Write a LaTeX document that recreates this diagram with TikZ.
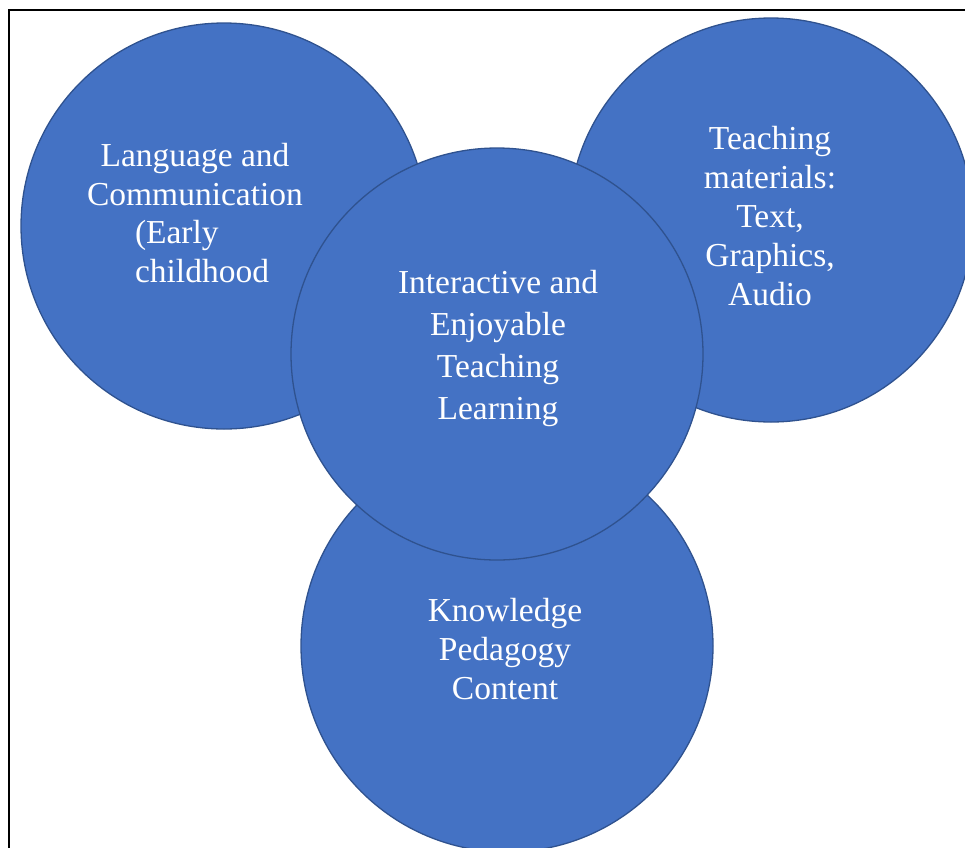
\documentclass[tikz,border=0pt]{standalone}
\usepackage{fontspec}
\setmainfont{Liberation Serif}
\definecolor{bfill}{HTML}{4472C4}
\definecolor{bline}{HTML}{2F528F}
\begin{document}
\begin{tikzpicture}[x=1pt,y=-1pt,
  bub/.style={circle,draw=bline,fill=bfill,line width=1.3pt,inner sep=0pt},
  lbl/.style={text=white,align=center,inner sep=0pt,font=\fontsize{33.5}{38.8}\selectfont}]
\useasboundingbox (0,0) rectangle (965,847);
\draw[line width=2pt] (9,1000) -- (9,10) -- (1000,10);
\node[bub,minimum size=406pt] (L) at (224,226) {};
\node[bub,minimum size=404pt] (R) at (771,220) {};
\node[bub,minimum size=412pt] (B) at (507,646) {};
\node[bub,minimum size=412pt] (C) at (497,354) {};
\node[lbl] (Lt) at (195,213) {Language and\\Communication\\\makebox[0pt][l]{\hspace{-60pt}(Early}\\\makebox[0pt][l]{\hspace{-60pt}childhood}};
\node[lbl] (Rt) at (770,216) {Teaching\\materials:\\Text,\\Graphics,\\Audio};
\node[lbl,font=\fontsize{33.5}{42}\selectfont] (Ct) at (498,348) {Interactive and\\Enjoyable\\Teaching\\Learning};
\node[lbl] (Bt) at (505,649) {Knowledge\\Pedagogy\\Content};
\end{tikzpicture}
\end{document}
